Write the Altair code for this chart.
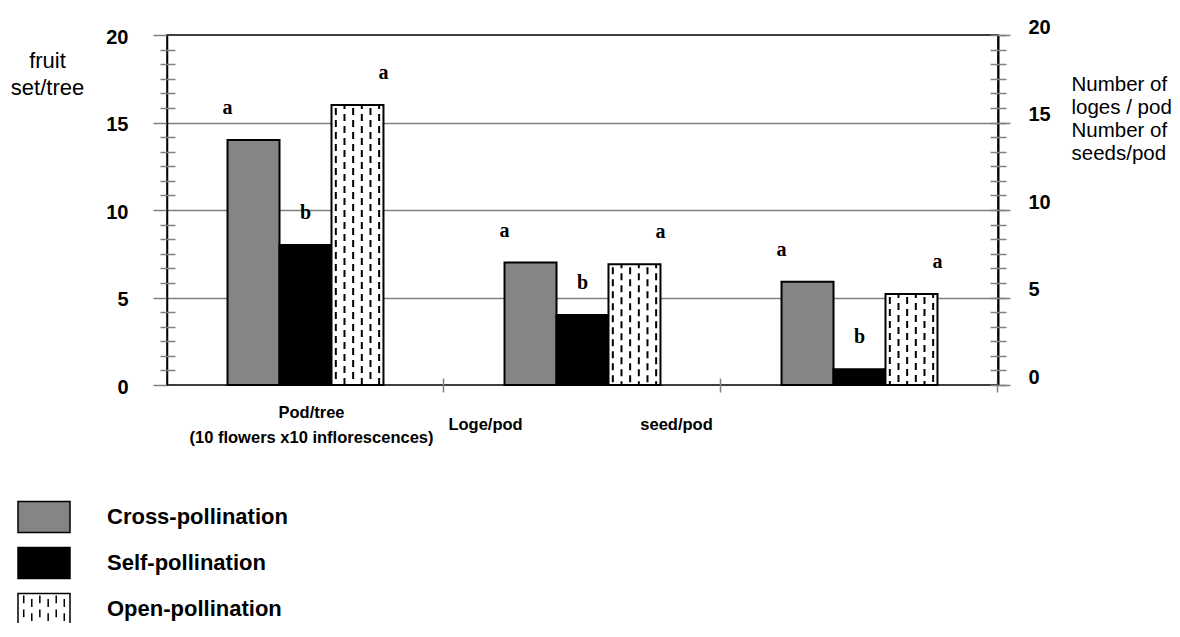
import altair as alt
import pandas as pd

# ---- data ----
categories = ["Pod/tree", "Loge/pod", "seed/pod"]
series = ["Cross-pollination", "Self-pollination", "Open-pollination"]
cross_vals = [14.0, 7.0, 5.9]
self_vals = [8.0, 4.0, 0.9]
open_vals = [16.0, 6.9, 5.2]
letters_cross = ["a", "a", "a"]
letters_self = ["b", "b", "b"]
letters_open = ["a", "a", "a"]
major_ticks = [0, 5, 10, 15, 20]
grid_ticks = [5, 10, 15]
fills = ["#858585", "#000000", "#ffffff"]

rows = []
for i, c in enumerate(categories):
    for s, vals, lets in zip(series, [cross_vals, self_vals, open_vals],
                             [letters_cross, letters_self, letters_open]):
        rows.append({"category": c, "series": s, "value": vals[i], "letter": lets[i]})
df = pd.DataFrame(rows)

# dashed-line pattern columns inside the open-pollination bars
pattern_cols = [0, 1, 2, 3, 4, 5]
slots = list(range(18))
dash_rows = []
for i, c in enumerate(categories):
    for k in pattern_cols:
        dash_rows.append({"category": c, "slot": 12 + k, "value": open_vals[i], "phase": k % 2})
ddf = pd.DataFrame(dash_rows)

minor_ticks = [k * 5 / 6 for k in range(1, 24) if k % 6 != 0]
all_ticks = [k * 5 / 6 for k in range(0, 25)]

# legend swatch shapes (rectangles; open one carries dashes)
rect = "M-1,-0.6H1V0.6H-1Z"
dash_path = rect
for j, xx in enumerate([-0.78, -0.47, -0.16, 0.16, 0.47, 0.78]):
    if j % 2 == 0:
        segs = [(-0.52, -0.22), (0.02, 0.32)]
    else:
        segs = [(-0.38, -0.08), (0.16, 0.46)]
    for a, b in segs:
        dash_path += f" M{xx},{a}V{b}"
shapes = [rect, rect, dash_path]

SANS = "Liberation Sans"
GRAY = "#808080"

yscale = alt.Scale(domain=[0, 20], nice=False, zero=True)

label_expr = ("datum.value == 'Pod/tree' ? ['Pod/tree', '(10 flowers x10 inflorescences)'] "
              ": datum.value")
x_axis = alt.Axis(
    title=None, domain=False, grid=False, ticks=True, tickColor=GRAY, tickWidth=1.5,
    tickSize=14, offset=-7, tickOffset=137, labelAngle=0, labelFont=SANS,
    labelFontSize=16.5, labelFontWeight="bold", labelColor="black", labelBaseline="middle",
    labelPadding={"condition": {"test": "datum.value === 'Pod/tree'", "value": 20},
                  "value": 32},
    labelLimit=0, labelOverlap=False, labelLineHeight=25, labelExpr=label_expr,
    labelOffset={"condition": [{"test": "datum.value === 'Loge/pod'", "value": -234.5},
                               {"test": "datum.value === 'seed/pod'", "value": -320.5}],
                 "value": -131.5},
)
xenc = alt.X("category:N", sort=categories, title=None,
             scale=alt.Scale(domain=categories, paddingInner=0.437, paddingOuter=0.2185),
             axis=x_axis)
xoff = alt.XOffset("series:N", sort=series,
                   scale=alt.Scale(domain=series, paddingInner=0, paddingOuter=0))

axis_left = alt.Axis(
    orient="left", values=major_ticks, grid=False, domain=True, domainColor="black",
    domainWidth=1.5, ticks=True, tickColor=GRAY, tickWidth=1.5, tickSize=14,
    labelFont=SANS, labelFontSize=20, labelFontWeight="bold", labelColor="black",
    labelPadding=25, labelOffset=2, labelBaseline="middle",
    title=["fruit", "set/tree"], titleAngle=0, titleAlign="center", titleBaseline="top",
    titleX=-120, titleY=15, titleFont=SANS, titleFontSize=22, titleFontWeight="normal",
    titleColor="black", titleLineHeight=27,
)
axis_left_minor = alt.Axis(
    orient="left", values=minor_ticks, grid=False, domain=False, labels=False,
    ticks=True, tickColor=GRAY, tickWidth=1.5, tickSize=15, offset=-8, title=None,
)
axis_grid = alt.Axis(
    orient="left", values=grid_ticks, grid=True, gridColor=GRAY, gridWidth=1.5,
    domain=False, labels=False, ticks=False, title=None,
)
axis_right = alt.Axis(
    orient="right", values=major_ticks, grid=False, domain=True, domainColor="black",
    domainWidth=2, ticks=True, tickColor=GRAY, tickWidth=1.5, tickSize=12,
    labelFont=SANS, labelFontSize=20, labelFontWeight="bold", labelColor="black",
    labelPadding=18, labelOffset=-8, labelBaseline="middle",
    title=["Number of", "loges / pod", "Number of", "seeds/pod"], titleAngle=0,
    titleAlign="left", titleBaseline="top", titleX=73, titleY=39, titleFont=SANS,
    titleFontSize=20.5, titleFontWeight="normal", titleColor="black", titleLineHeight=23,
)
axis_right_minor = alt.Axis(
    orient="right", values=all_ticks, grid=False, domain=False, labels=False,
    ticks=True, tickColor=GRAY, tickWidth=1.5, tickSize=16, offset=-8, title=None,
)

legend_def = alt.Legend(
    title=None, orient="none", legendX=-150, legendY=455, padding=0,
    symbolSize=2704, symbolStrokeWidth=1.5, symbolOpacity=1,
    labelFont=SANS, labelFontSize=22, labelFontWeight="bold", labelColor="black",
    labelOffset=36, labelLimit=0, rowPadding=-10,
)

bars = alt.Chart(df).mark_bar(stroke="black", strokeWidth=2).encode(
    x=xenc, xOffset=xoff,
    y=alt.Y("value:Q", scale=yscale, axis=axis_left),
    fill=alt.Fill("series:N", sort=series, scale=alt.Scale(domain=series, range=fills),
                  legend=legend_def),
)

dashes = alt.Chart(ddf).mark_rule(
    color="black", strokeWidth=2, strokeDash=[7, 5],
    strokeDashOffset=alt.expr("datum.phase == 1 ? 3 : 9"),
).encode(
    x=xenc,
    xOffset=alt.XOffset("slot:O", scale=alt.Scale(domain=slots, paddingInner=0, paddingOuter=0)),
    y=alt.Y("value:Q", scale=yscale, axis=axis_left_minor),
    y2=alt.datum(0),
)

legend_layer = alt.Chart(df).mark_point(
    filled=True, opacity=0, stroke="black", strokeWidth=1.5,
).encode(
    x=xenc, xOffset=xoff,
    y=alt.Y("value:Q", scale=yscale, axis=axis_grid),
    shape=alt.Shape("series:N", sort=series, scale=alt.Scale(domain=series, range=shapes),
                    legend=legend_def),
)

letters = alt.Chart(df).mark_text(
    font="Liberation Serif", fontSize=20, fontWeight="bold", baseline="middle",
    dy=-32, color="black",
).encode(
    x=xenc, xOffset=xoff,
    y=alt.Y("value:Q", scale=yscale, axis=axis_right),
    text="letter:N",
)

minor_layer = alt.Chart(df).mark_point(opacity=0).encode(
    x=xenc, xOffset=xoff,
    y=alt.Y("value:Q", scale=yscale, axis=axis_right_minor),
)

chart = alt.layer(bars, dashes, legend_layer, letters, minor_layer).resolve_scale(
    y="shared", xOffset="independent"
).resolve_axis(y="independent").properties(
    width=831, height=350,
    autosize=alt.AutoSizeParams(type="none"),
    padding={"left": 159, "top": 27, "right": 174, "bottom": 238},
    background="white",
).configure_view(stroke="black", strokeWidth=1.5)

chart.save("out.html", embed_options={"renderer": "svg", "actions": False})
